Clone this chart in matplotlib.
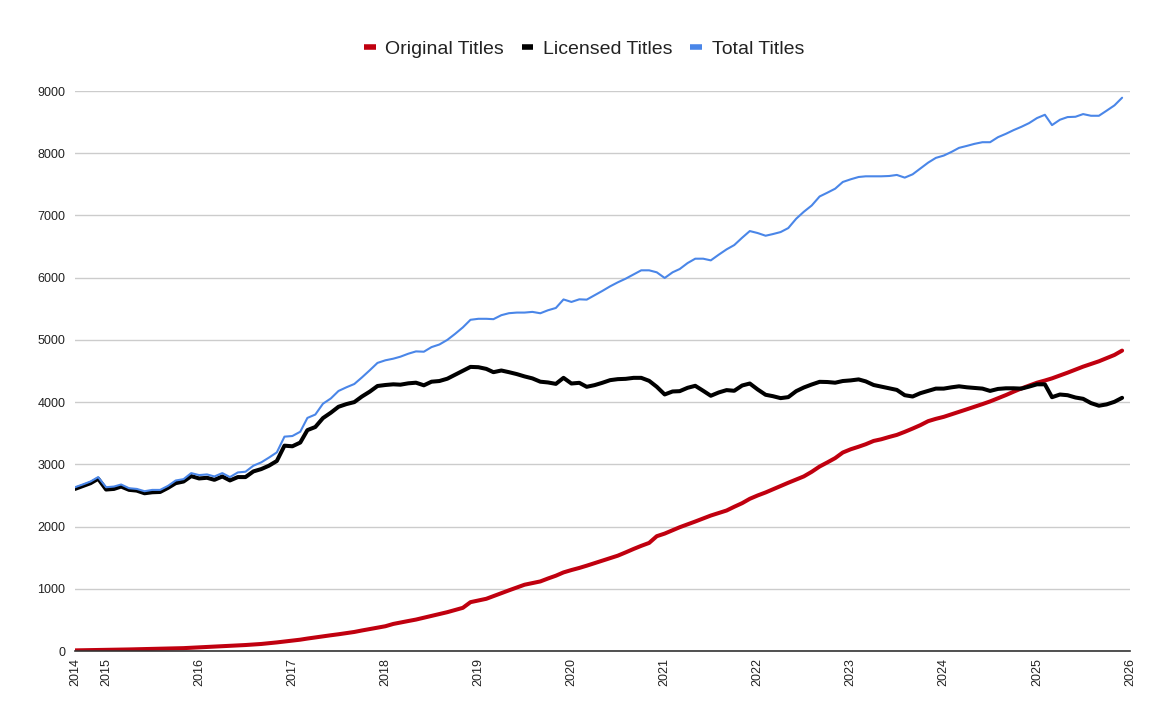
import matplotlib
matplotlib.use("Agg")
import matplotlib.pyplot as plt
from matplotlib.lines import Line2D
import pandas as pd

plt.rcParams['font.family'] = ['Liberation Sans', 'DejaVu Sans']

start_month = "2014-09-01"

original_titles = [
    10, 12, 14, 16, 18, 20, 22, 25, 28, 31, 34, 37, 40, 43, 46, 52,
    59, 64, 70, 75, 81, 88, 96, 104, 113, 125, 138, 152, 167, 182, 200, 218,
    237, 253, 269, 288, 306, 330, 352, 375, 398, 435, 458, 482, 505, 535, 565, 595,
    624, 658, 694, 785, 812, 839, 882, 930, 975, 1020, 1065, 1092, 1118, 1165, 1210, 1263,
    1301, 1335, 1371, 1412, 1452, 1492, 1532, 1585, 1640, 1690, 1737, 1845, 1887, 1940, 1989, 2035,
    2081, 2130, 2177, 2218, 2258, 2318, 2376, 2446, 2500, 2548, 2597, 2650, 2704, 2755, 2806, 2880,
    2965, 3030, 3100, 3190, 3242, 3283, 3323, 3376, 3403, 3440, 3473, 3522, 3575, 3629, 3694, 3731,
    3763, 3805, 3844, 3885, 3925, 3968, 4011, 4062, 4113, 4167, 4220, 4266, 4312, 4347, 4382, 4428,
    4473, 4522, 4570, 4613, 4656, 4707, 4758, 4828,
]

licensed_titles = [
    2605, 2650, 2697, 2768, 2595, 2605, 2643, 2590, 2578, 2535, 2551, 2556, 2622, 2697, 2724, 2811,
    2773, 2784, 2751, 2805, 2741, 2795, 2795, 2886, 2924, 2978, 3054, 3300, 3290, 3350, 3550, 3600,
    3743, 3830, 3925, 3968, 4000, 4090, 4169, 4259, 4275, 4286, 4280, 4302, 4312, 4270, 4328, 4339,
    4376, 4439, 4503, 4566, 4561, 4534, 4481, 4508, 4481, 4450, 4413, 4381, 4328, 4316, 4293, 4390,
    4299, 4310, 4246, 4273, 4310, 4353, 4369, 4374, 4390, 4390, 4342, 4246, 4123, 4171, 4176, 4230,
    4262, 4182, 4102, 4155, 4193, 4182, 4267, 4299, 4203, 4118, 4096, 4064, 4080, 4176, 4235, 4283,
    4326, 4323, 4312, 4339, 4349, 4365, 4333, 4275, 4249, 4222, 4196, 4111, 4090, 4143, 4180, 4217,
    4217, 4238, 4254, 4238, 4228, 4217, 4180, 4212, 4222, 4222, 4217, 4249, 4286, 4286, 4079, 4122,
    4111, 4074, 4053, 3984, 3942, 3963, 4005, 4069,
]

total_titles = [
    2632, 2676, 2724, 2795, 2632, 2643, 2676, 2616, 2605, 2568, 2589, 2589, 2654, 2740, 2762, 2859,
    2827, 2838, 2805, 2859, 2795, 2870, 2881, 2978, 3032, 3108, 3192, 3445, 3455, 3524, 3746, 3800,
    3974, 4059, 4179, 4238, 4291, 4397, 4513, 4630, 4672, 4698, 4730, 4778, 4815, 4810, 4884, 4926,
    5000, 5095, 5201, 5323, 5339, 5339, 5333, 5397, 5429, 5439, 5439, 5450, 5428, 5476, 5513, 5650,
    5610, 5652, 5647, 5717, 5786, 5861, 5925, 5984, 6053, 6118, 6118, 6086, 5995, 6086, 6139, 6235,
    6305, 6305, 6278, 6369, 6455, 6524, 6642, 6749, 6717, 6674, 6700, 6733, 6797, 6947, 7059, 7160,
    7305, 7365, 7430, 7538, 7581, 7618, 7629, 7629, 7629, 7634, 7651, 7608, 7661, 7753, 7849, 7925,
    7962, 8022, 8086, 8118, 8151, 8177, 8177, 8258, 8312, 8371, 8425, 8484, 8565, 8618, 8452, 8538,
    8581, 8586, 8629, 8602, 8602, 8683, 8769, 8892,
]

series_names = ["Original Titles", "Licensed Titles", "Total Titles"]
series_colors = ["#c0000f", "#000000", "#4a86e8"]
series_widths = [2.9, 2.9, 1.5]

year_labels = ["2014", "2015", "2016", "2017", "2018", "2019", "2020",
               "2021", "2022", "2023", "2024", "2025", "2026"]
y_ticks = [0, 1000, 2000, 3000, 4000, 5000, 6000, 7000, 8000, 9000]

dates = pd.date_range(start_month, periods=len(total_titles), freq="MS")

fig = plt.figure(figsize=(11.68, 7.21), dpi=100)
ax = fig.add_axes([75 / 1168, 1 - 651 / 721, (1130 - 75) / 1168, (651 - 91) / 721])

for vals, name, col, lw in zip([original_titles, licensed_titles, total_titles],
                               series_names, series_colors, series_widths):
    ax.plot(dates, vals, color=col, lw=lw, label=name, solid_joinstyle="round",
            solid_capstyle="round")

tick_dates = [pd.Timestamp(start_month)] + [pd.Timestamp(f"{y}-01-01") for y in year_labels[1:]]
ax.set_xticks(tick_dates)
ax.set_xticklabels(year_labels, rotation=90, fontsize=9, color="#222222")
ax.set_xlim(pd.Timestamp(start_month), pd.Timestamp("2026-01-01"))

ax.set_ylim(0, 9000)
ax.set_yticks(y_ticks)
ax.set_yticklabels([str(v) for v in y_ticks], fontsize=9, color="#222222")

ax.grid(axis="y", color="#cccccc", lw=1)
ax.set_axisbelow(True)
for s in ["top", "right", "left"]:
    ax.spines[s].set_visible(False)
ax.spines["bottom"].set_color("#333333")
ax.spines["bottom"].set_linewidth(1.2)
ax.tick_params(axis="both", length=0)
ax.tick_params(axis="y", pad=7)
ax.tick_params(axis="x", pad=5)

handles = [Line2D([0], [0], color=c, lw=4, solid_capstyle="butt") for c in series_colors]
fig.legend(handles, series_names, loc="center", bbox_to_anchor=(0.5, 1 - 49 / 721),
           ncol=3, frameon=False, fontsize=14, handlelength=0.6, handletextpad=0.5,
           columnspacing=0.9, labelcolor="#222222")

fig.savefig("out.png", dpi=100, facecolor="white")
